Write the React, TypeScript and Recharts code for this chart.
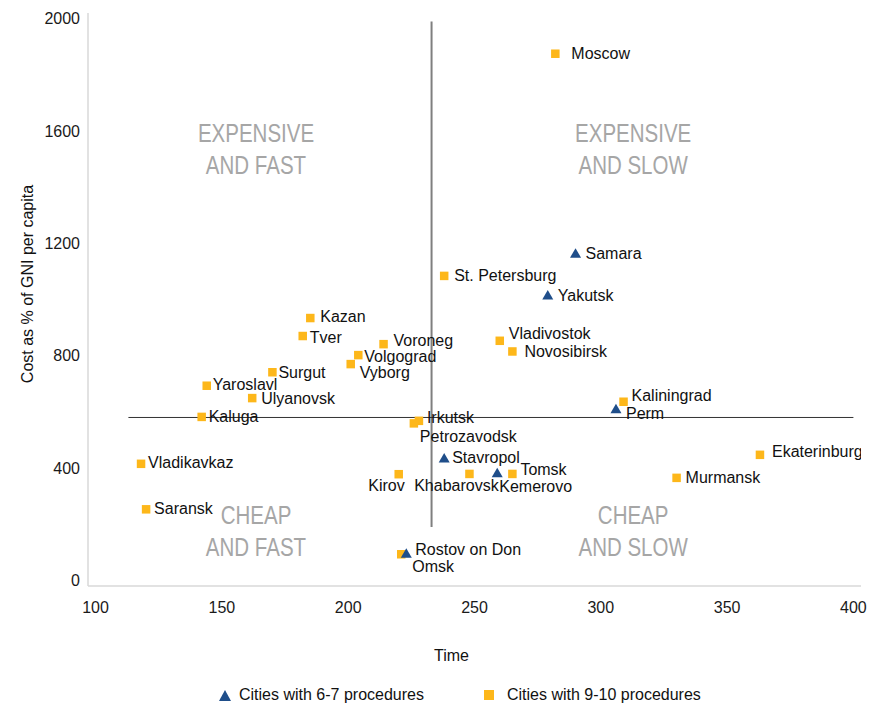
import React from 'react';
import {
  ScatterChart,
  Scatter,
  XAxis,
  YAxis,
  ReferenceLine,
  ReferenceDot,
  Label,
} from 'recharts';

// cities with 6-7 procedures (triangles)
const fewCities = ['Samara', 'Yakutsk', 'Perm', 'Stavropol', 'Kemerovo', 'Rostov on Don'];
const fewTime = [290, 279, 306, 238, 259, 223];
const fewCost = [1165, 1016, 611, 436, 383, 97];

// cities with 9-10 procedures (squares)
const manyCities = [
  'Moscow', 'St. Petersburg', 'Vladivostok', 'Novosibirsk', 'Kazan', 'Tver',
  'Voroneg', 'Volgograd', 'Vyborg', 'Surgut', 'Yaroslavl', 'Ulyanovsk',
  'Kaluga', 'Irkutsk', 'Petrozavodsk', 'Kaliningrad', 'Ekaterinburg', 'Murmansk',
  'Vladikavkaz', 'Saransk', 'Kirov', 'Khabarovsk', 'Tomsk', 'Omsk',
];
const manyTime = [
  282, 238, 260, 265, 185, 182,
  214, 204, 201, 170, 144, 162,
  142, 228, 226, 309, 363, 330,
  118, 120, 220, 248, 265, 221,
];
const manyCost = [
  1875, 1084, 853, 815, 934, 870,
  841, 802, 770, 741, 693, 649,
  582, 568, 559, 636, 447, 365,
  415, 253, 378, 379, 379, 93,
];

const xTicks = [100, 150, 200, 250, 300, 350, 400];
const yTicks = [0, 400, 800, 1200, 1600, 2000];

// quadrant dividers (data coords)
const midTime = 233;
const midCost = 580;

const quadrants = [
  { lines: ['EXPENSIVE', 'AND FAST'], x: 163.5, y: 1537 },
  { lines: ['EXPENSIVE', 'AND SLOW'], x: 312.8, y: 1537 },
  { lines: ['CHEAP', 'AND FAST'], x: 163.5, y: 175 },
  { lines: ['CHEAP', 'AND SLOW'], x: 312.8, y: 175 },
];

// where each city name sits relative to its marker: dx, dy, anchor
const labelPlace: Record<string, [number, number, 'start' | 'middle' | 'end']> = {
  Moscow: [16, 0, 'start'],
  Samara: [10, 0, 'start'],
  'St. Petersburg': [10, 0, 'start'],
  Yakutsk: [10, 0, 'start'],
  Vladivostok: [9, -7, 'start'],
  Novosibirsk: [12, 0, 'start'],
  Kazan: [10, -2, 'start'],
  Tver: [7, 1, 'start'],
  Voroneg: [10, -4, 'start'],
  Volgograd: [6, 1, 'start'],
  Vyborg: [9, 8, 'start'],
  Surgut: [6, 0, 'start'],
  Yaroslavl: [6, -1, 'start'],
  Ulyanovsk: [9, 0, 'start'],
  Kaluga: [7, 0, 'start'],
  Irkutsk: [8, -3, 'start'],
  Petrozavodsk: [6, 13, 'start'],
  Kaliningrad: [8, -6, 'start'],
  Perm: [10, 5, 'start'],
  Ekaterinburg: [12, -3, 'start'],
  Murmansk: [9, 0, 'start'],
  Vladikavkaz: [7, -1, 'start'],
  Saransk: [8, -1, 'start'],
  Stavropol: [8, 0, 'start'],
  Tomsk: [8, -4, 'start'],
  Kirov: [6, 11, 'end'],
  Khabarovsk: [-13, 12, 'middle'],
  Kemerovo: [2, 14, 'start'],
  'Rostov on Don': [9, -4, 'start'],
  Omsk: [11, 12, 'start'],
};

const BLUE = '#1f4e8a';
const ORANGE = '#fdb71a';
const FONT = '"Liberation Sans", Arial, sans-serif';

const fewData = fewCities.map((name, i) => ({ name, x: fewTime[i], y: fewCost[i] }));
const manyData = manyCities.map((name, i) => ({ name, x: manyTime[i], y: manyCost[i] }));

function CityLabel({ cx, cy, name }: { cx: number; cy: number; name: string }) {
  const [dx, dy, anchor] = labelPlace[name] || [8, 0, 'start'];
  return (
    <text
      x={cx + dx}
      y={cy + dy}
      textAnchor={anchor}
      dominantBaseline="central"
      fontSize={16}
      fontFamily={FONT}
      fill="#111"
    >
      {name}
    </text>
  );
}

const Triangle = (props: any) => {
  const { cx, cy, payload } = props;
  return (
    <g>
      <polygon points={`${cx - 5.5},${cy + 4.5} ${cx + 5.5},${cy + 4.5} ${cx},${cy - 5}`} fill={BLUE} />
      <CityLabel cx={cx} cy={cy} name={payload.name} />
    </g>
  );
};

const Square = (props: any) => {
  const { cx, cy, payload } = props;
  return (
    <g>
      <rect x={cx - 4.25} y={cy - 4.25} width={8.5} height={8.5} fill={ORANGE} />
      <CityLabel cx={cx} cy={cy} name={payload.name} />
    </g>
  );
};

// condensed grey quadrant captions
const QuadrantText = (lines: string[]) => (props: any) => (
  <g transform={`translate(${props.cx},${props.cy}) scale(0.82,1)`}>
    <text textAnchor="middle" fontSize={25} fontFamily={FONT} fill="#a6a6a6">
      <tspan x={0} y={-7}>{lines[0]}</tspan>
      <tspan x={0} y={25}>{lines[1]}</tspan>
    </text>
  </g>
);

export default function App() {
  const tick = { fontSize: 16, fontFamily: FONT, fill: '#1a1a1a' };
  return (
    <div style={{ position: 'relative', width: 862, height: 695, fontFamily: FONT }}>
      <ScatterChart width={862} height={695} margin={{ top: 5, right: 9, bottom: 87, left: 20 }}>
        <XAxis
          type="number"
          dataKey="x"
          domain={[97, 403]}
          ticks={xTicks}
          allowDataOverflow
          tickLine={false}
          tickMargin={10}
          height={30}
          axisLine={{ stroke: '#d9d9d9', strokeWidth: 1.5 }}
          tick={tick}
        >
          <Label
            content={(p: any) => {
              const vb = p.viewBox;
              return (
                <text x={vb.x + vb.width / 2 - 23} y={647} textAnchor="middle" dominantBaseline="central" fontSize={16} fontFamily={FONT} fill="#111">
                  Time
                </text>
              );
            }}
          />
        </XAxis>
        <YAxis
          type="number"
          dataKey="y"
          domain={[-20, 2020]}
          ticks={yTicks}
          allowDataOverflow
          tickLine={false}
          width={60}
          axisLine={{ stroke: '#d9d9d9', strokeWidth: 1.5 }}
          tick={tick}
        >
          <Label
            content={() => (
              <text
                x={19}
                y={276}
                transform="rotate(-90, 19, 276)"
                textAnchor="middle"
                dominantBaseline="central"
                fontSize={16}
                fontFamily={FONT}
                fill="#111"
              >
                Cost as % of GNI per capita
              </text>
            )}
          />
        </YAxis>
        <ReferenceLine
          segment={[{ x: midTime, y: 190 }, { x: midTime, y: 1990 }]}
          stroke="#7f7f7f"
          strokeWidth={2}
        />
        <ReferenceLine
          segment={[{ x: 113, y: midCost }, { x: 400, y: midCost }]}
          stroke="#333"
          strokeWidth={1}
        />
        {quadrants.map((q) => (
          <ReferenceDot key={q.lines.join()} x={q.x} y={q.y} r={0} shape={QuadrantText(q.lines)} />
        ))}
        <Scatter name="Cities with 9-10 procedures" data={manyData} shape={Square} isAnimationActive={false} />
        <Scatter name="Cities with 6-7 procedures" data={fewData} shape={Triangle} isAnimationActive={false} />
      </ScatterChart>
      <div
        style={{
          position: 'absolute',
          left: 211,
          top: 678,
          display: 'flex',
          alignItems: 'center',
          fontSize: 16,
          lineHeight: '18px',
          height: 18,
          color: '#111',
          whiteSpace: 'nowrap',
        }}
      >
        <svg width={12} height={11} style={{ marginRight: 8 }}>
          <polygon points="0,11 12,11 6,0" fill={BLUE} />
        </svg>
        <span>Cities with 6-7 procedures</span>
        <span style={{ display: 'inline-block', width: 10, height: 10, background: ORANGE, marginLeft: 60, marginRight: 13 }} />
        <span>Cities with 9-10 procedures</span>
      </div>
    </div>
  );
}
